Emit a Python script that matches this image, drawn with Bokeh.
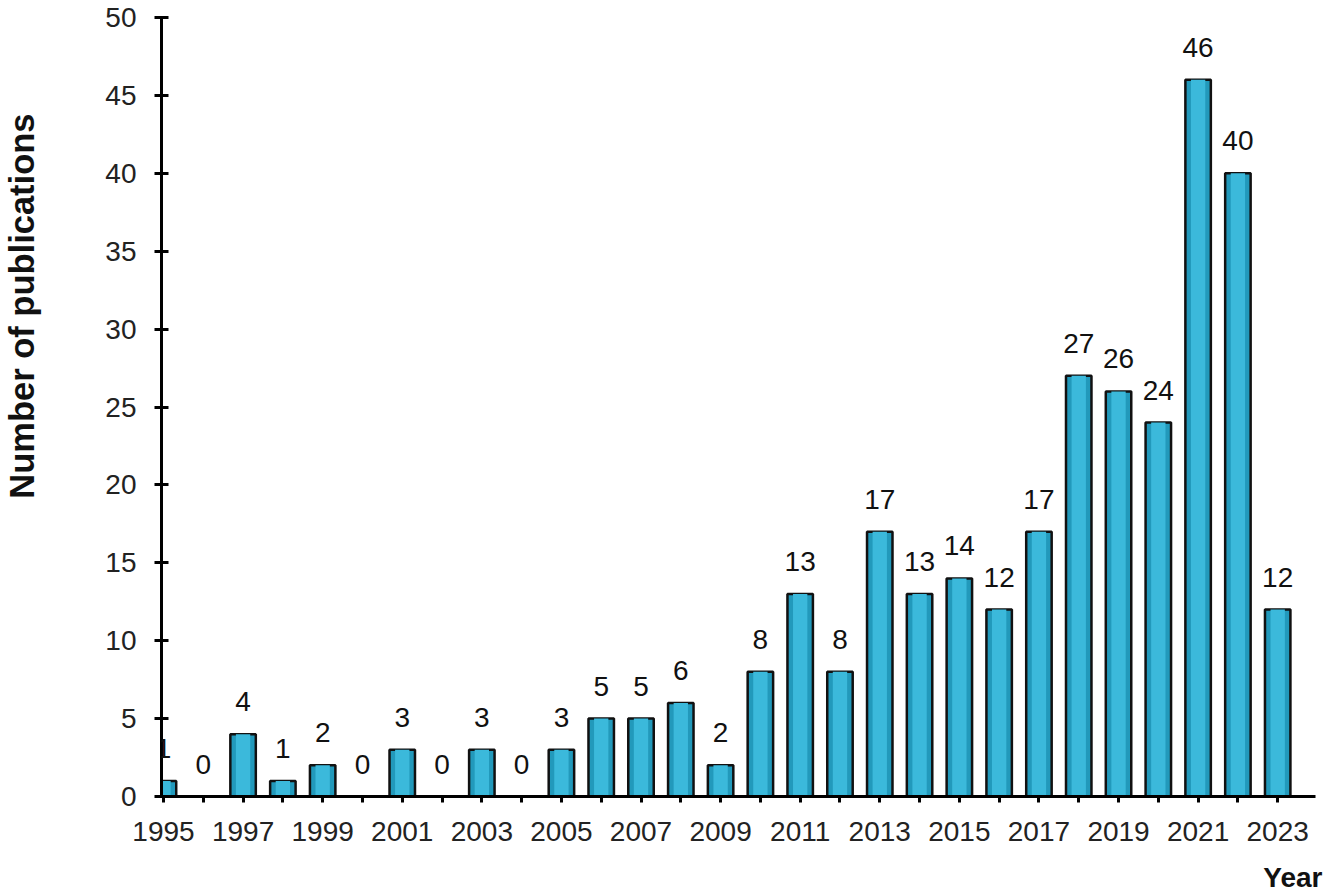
from bokeh.plotting import figure
from bokeh.models import ColumnDataSource, FixedTicker, LabelSet, Range1d, Title, LinearAxis
from bokeh.core.properties import value
from bokeh.embed import file_html
from bokeh.resources import INLINE

years = list(range(1995, 2024))
counts = [1, 0, 4, 1, 2, 0, 3, 0, 3, 0, 3, 5, 5, 6, 2, 8, 13, 8, 17, 13, 14, 12, 17, 27, 26, 24, 46, 40, 12]
y_ticks = [0, 5, 10, 15, 20, 25, 30, 35, 40, 45, 50]
x_tick_labels = {y: (str(y) if y % 2 == 1 else "") for y in years}

src = ColumnDataSource(data=dict(x=years, top=counts, lbl=[str(c) for c in counts]))

W, H = 1324, 895
p = figure(width=W, height=H, output_backend="svg", toolbar_location=None,
           x_range=Range1d(1994.95, 2023.95), y_range=Range1d(0, 50),
           min_border_left=160, min_border_right=W - 1315, min_border_top=17,
           min_border_bottom=H - 796)
p.outline_line_color = None
p.grid.visible = False
p.background_fill_color = "white"
p.border_fill_color = "white"

# bars: outer with outline, inner lighter highlight
p.vbar(x="x", top="top", bottom=0, width=0.64, source=src,
       fill_color="#2299bb", line_color="#111111", line_width=2.5)
p.vbar(x="x", top="top", bottom=0, width=0.36, source=src,
       fill_color="#3bb9db", line_color=None)

labels = LabelSet(x="x", y="top", text="lbl", source=src, text_align="center",
                  text_baseline="alphabetic", y_offset=23,
                  text_font=value("Liberation Sans"), text_font_size="28px",
                  text_color="#111111")
p.add_layout(labels)

# axes
for ax in (p.xaxis[0], p.yaxis[0]):
    ax.axis_line_width = 3
    ax.axis_line_color = "#000000"
    ax.major_tick_line_width = 3
    ax.major_tick_line_color = "#000000"
    ax.minor_tick_line_color = None
    ax.major_label_text_font = "Liberation Sans"
    ax.major_label_text_font_size = "28px"
    ax.major_label_text_color = "#222222"

p.xaxis.ticker = FixedTicker(ticks=years)
p.xaxis.major_label_overrides = x_tick_labels
p.xaxis.major_tick_out = 6
p.xaxis.major_tick_in = 0
p.xaxis.major_label_standoff = 19

p.yaxis.ticker = FixedTicker(ticks=y_ticks)
p.yaxis.major_tick_out = 7
p.yaxis.major_tick_in = 7
p.yaxis.major_label_standoff = 18


def spacer(size, tick):
    # invisible axis used only to reserve room between an axis and its title
    return LinearAxis(ticker=FixedTicker(ticks=[tick]), axis_line_color=None,
                      major_tick_line_color=None, minor_tick_line_color=None,
                      major_tick_out=size, major_tick_in=0, minor_tick_out=0,
                      minor_tick_in=0, major_label_standoff=0,
                      major_label_overrides={tick: ""},
                      major_label_text_font_size="1px")


p.add_layout(spacer(62, 25), "left")
p.add_layout(spacer(16, 2009), "below")

p.add_layout(Title(text="Number of publications", align="right", offset=96,
                   standoff=0, vertical_align="bottom",
                   text_font="Liberation Sans", text_font_style="bold",
                   text_font_size="34.5px", text_color="#111111"), "left")
p.add_layout(Title(text="Year", align="right", offset=-7, standoff=0,
                   vertical_align="bottom",
                   text_font="Liberation Sans", text_font_style="bold",
                   text_font_size="28px", text_color="#111111"), "below")

open("out.html", "w").write(file_html(p, INLINE))
